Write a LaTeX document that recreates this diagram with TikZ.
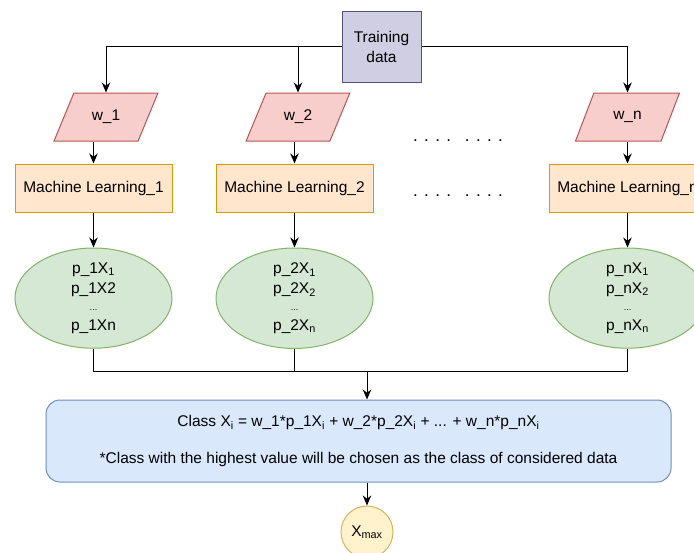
\documentclass[tikz,border=0pt]{standalone}
\usepackage{fontspec}
\setmainfont{Liberation Sans}
\usetikzlibrary{shapes.geometric,arrows.meta,positioning}
\definecolor{datafill}{HTML}{D0CEE2}
\definecolor{datadraw}{HTML}{56517E}
\definecolor{weightfill}{HTML}{F8CECC}
\definecolor{weightdraw}{HTML}{B85450}
\definecolor{learnfill}{HTML}{FFE6CC}
\definecolor{learndraw}{HTML}{D79B00}
\definecolor{probfill}{HTML}{D5E8D4}
\definecolor{probdraw}{HTML}{82B366}
\definecolor{combfill}{HTML}{DAE8FC}
\definecolor{combdraw}{HTML}{6C8EBF}
\definecolor{resfill}{HTML}{FFF2CC}
\definecolor{resdraw}{HTML}{D6B656}
\newcommand{\smalldots}{{\fontsize{9}{9}\selectfont ...}}

\begin{document}
\begin{tikzpicture}[
    x=1pt, y=-1pt,
    every node/.style={align=center, font=\fontsize{15.5}{20}\selectfont},
    data/.style={rectangle, minimum width=79pt, minimum height=71pt, draw=datadraw, fill=datafill, line width=1pt},
    weight/.style={trapezium, trapezium left angle=62, trapezium right angle=118, trapezium stretches=true, minimum width=104pt, minimum height=48pt, draw=weightdraw, fill=weightfill, line width=1pt},
    learner/.style={rectangle, minimum width=157pt, minimum height=48pt, draw=learndraw, fill=learnfill, line width=1pt},
    prob/.style={ellipse, minimum width=157pt, minimum height=94pt, inner sep=0pt, draw=probdraw, fill=probfill, line width=1pt},
    combine/.style={rectangle, rounded corners=14pt, minimum width=625pt, minimum height=82pt, draw=combdraw, fill=combfill, line width=1pt},
    result/.style={circle, minimum size=52pt, inner sep=0pt, draw=resdraw, fill=resfill, line width=1pt},
    line/.style={line width=1pt},
    arrow/.style={line width=1pt, -{Stealth[length=10pt,width=8.5pt]}}
]
\useasboundingbox (0,0) rectangle (694,552);
\clip (0,0) rectangle (694,552);

% Input
\node[data] (train) at (381.5,46.5) {Training\\data};

% Weights
\node[weight] (w1) at (106,117) {w\_1};
\node[weight] (w2) at (298,117) {w\_2};
\node[weight] (wn) at (627.5,117) {w\_n};
\node (dotsA) at (458,141) {\fontsize{17}{17}\selectfont . . . .\hspace{14pt}. . . .};

% Learners
\node[learner] (ml1) at (93.5,188) {Machine Learning\_1};
\node[learner] (ml2) at (294.5,188) {Machine Learning\_2};
\node[learner] (mln) at (627.5,188) {Machine Learning\_n};
\node (dotsB) at (458,196) {\fontsize{17}{17}\selectfont . . . .\hspace{14pt}. . . .};

% Probabilities
\node[prob, below=35pt of ml1] (p1) {p\_1X\textsubscript{1}\\p\_1X2\\[-3pt]\smalldots\\p\_1Xn};
\node[prob, below=35pt of ml2] (p2) {p\_2X\textsubscript{1}\\p\_2X\textsubscript{2}\\[-3pt]\smalldots\\p\_2X\textsubscript{n}};
\node[prob, below=35pt of mln] (pn) {p\_nX\textsubscript{1}\\p\_nX\textsubscript{2}\\[-3pt]\smalldots\\p\_nX\textsubscript{n}};

% Combination
\coordinate (join) at (367,371);
\node[combine] (comb) at (358.5,441) {Class X\textsubscript{i} = w\_1*p\_1X\textsubscript{i} + w\_2*p\_2X\textsubscript{i} + ... + w\_n*p\_nX\textsubscript{i}\\[17pt]*Class with the highest value will be chosen as the class of considered data};
\node[result] (xmax) at (367,532) {X\textsubscript{max}};

% Connections
\draw[arrow] (train.west) -| (w1.north);
\draw[arrow] (train.west) -| (w2.north);
\draw[arrow] (train.east) -| (wn.north);
\draw[arrow] (w1.south -| ml1.north) -- (ml1.north);
\draw[arrow] (w2.south -| ml2.north) -- (ml2.north);
\draw[arrow] (wn.south -| mln.north) -- (mln.north);
\draw[arrow] (ml1) -- (p1);
\draw[arrow] (ml2) -- (p2);
\draw[arrow] (mln) -- (pn);
\draw[line] (p1.south) |- (join);
\draw[line] (p2.south) |- (join);
\draw[line] (pn.south) |- (join);
\draw[arrow] (join) -- (join |- comb.north);
\draw[arrow] (xmax |- comb.south) -- (xmax.north);

\end{tikzpicture}
\end{document}
